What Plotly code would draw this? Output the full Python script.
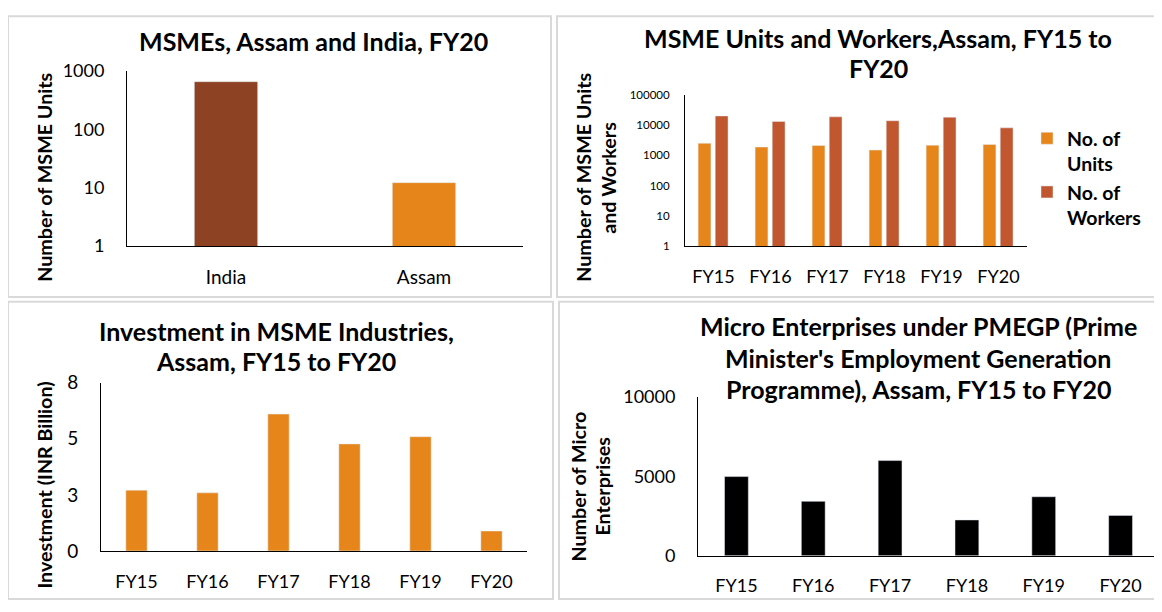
import plotly.graph_objects as go

# page body has an 8px margin: the figure is sized to fill the rest of the window
OFF = 8
W, H = 1162 - OFF, 612 - OFF

# ---------------- data ----------------
p1_categories = ["India", "Assam"]
p1_values = [656, 12.2]

years = ["FY15", "FY16", "FY17", "FY18", "FY19", "FY20"]
units = [2530, 1900, 2140, 1510, 2190, 2300]
workers = [20300, 13400, 19000, 14100, 18500, 8200]

investment = [2.71, 2.59, 6.10, 4.77, 5.09, 0.89]

pmegp = [4990, 3430, 6000, 2260, 3720, 2545]

p1_ticks = [1, 10, 100, 1000]
p2_ticks = [1, 10, 100, 1000, 10000, 100000]
p3_tickvals = [0, 2.5, 5, 7.5]
p3_ticktext = ["0", "3", "5", "8"]
p4_ticks = [0, 5000, 10000]

# ---------------- style ----------------
FONT = "Lato"
BROWN = "#8C4223"
ORANGE = "#E6851A"
RUST = "#C0572F"


def px(x):
    return (x - OFF) / W


def py(y):
    return 1 - (y - OFF) / H


fig = go.Figure()

fig.add_trace(go.Bar(x=p1_categories, y=p1_values, marker_color=[BROWN, ORANGE],
                     width=0.32, xaxis="x", yaxis="y", showlegend=False))

fig.add_trace(go.Bar(x=years, y=units, name="No. of<br>Units", marker_color=ORANGE,
                     width=0.225, offset=-0.27, xaxis="x2", yaxis="y2"))
fig.add_trace(go.Bar(x=years, y=workers, name="No. of<br>Workers", marker_color=RUST,
                     width=0.225, offset=0.03, xaxis="x2", yaxis="y2"))

fig.add_trace(go.Bar(x=years, y=investment, marker_color=ORANGE, width=0.30,
                     xaxis="x3", yaxis="y3", showlegend=False))

fig.add_trace(go.Bar(x=years, y=pmegp, marker_color="#000000", width=0.31,
                     xaxis="x4", yaxis="y4", showlegend=False))

axis_common = dict(showgrid=False, zeroline=False, showline=True, linecolor="#000000",
                   linewidth=1, ticks="", fixedrange=True)

def xax(x0, x1, anchor, size, standoff):
    return dict(domain=[px(x0), px(x1)], anchor=anchor, type="category",
                tickfont=dict(family=FONT, size=size, color="#000000"),
                ticklabelstandoff=standoff, **axis_common)

def yax(y0, y1, anchor, size, standoff, **kw):
    return dict(domain=[py(y1), py(y0)], anchor=anchor,
                tickfont=dict(family=FONT, size=size, color="#000000"),
                ticklabelstandoff=standoff, **axis_common, **kw)

fig.update_layout(
    width=W, height=H,
    margin=dict(l=0, r=0, t=0, b=0),
    paper_bgcolor="#FFFFFF", plot_bgcolor="#FFFFFF",
    barmode="group",
    font=dict(family=FONT, color="#000000"),
    xaxis=dict(xax(127, 523, "y", 19, 14), range=[-0.5, 1.5]),
    yaxis=yax(61, 243, "x", 18, 18, type="log", range=[0, 3],
              tickvals=p1_ticks, ticktext=[str(v) for v in p1_ticks]),
    xaxis2=dict(xax(685, 1027, "y2", 18, 14), range=[-0.5, 5.5]),
    yaxis2=yax(86, 243, "x2", 11.5, 12, type="log", range=[0, 5],
               tickvals=p2_ticks, ticktext=[str(v) for v in p2_ticks]),
    xaxis3=dict(xax(101, 527, "y3", 18, 14), range=[-0.5, 5.5]),
    yaxis3=yax(385, 560, "x3", 19, 18, range=[0, 7.5],
               tickvals=p3_tickvals, ticktext=p3_ticktext),
    xaxis4=dict(xax(698, 1159, "y4", 18, 14), range=[-0.5, 5.5]),
    yaxis4=yax(400, 565, "x4", 18, 18, range=[0, 10000],
               tickvals=p4_ticks, ticktext=[str(v) for v in p4_ticks]),
    legend=dict(x=px(1027), y=py(111), xanchor="left", yanchor="top",
                valign="top",
                font=dict(family=FONT, size=19.5, color="#000000", weight="bold"),
                bgcolor="rgba(0,0,0,0)", itemwidth=30),
    showlegend=True,
)

# panel borders
shapes = []
for (x0, y0, x1, y1) in [(8, 4, 551, 296), (557, 4, 1159, 296),
                         (8, 301, 553, 610), (559, 301, 1159, 610)]:
    shapes.append(dict(type="rect", xref="paper", yref="paper",
                       x0=px(x0), x1=px(x1), y0=py(y1), y1=py(y0),
                       line=dict(color="#D9D9D9", width=2), fillcolor="rgba(0,0,0,0)"))
fig.update_layout(shapes=shapes)

annotations = []

def text(x, y, s, size, bold=True, angle=0):
    annotations.append(dict(xref="paper", yref="paper", x=px(x), y=py(y), text=s,
                            showarrow=False, xanchor="center", yanchor="middle",
                            textangle=angle,
                            font=dict(family=FONT, size=size, color="#000000",
                                      weight="bold" if bold else "normal")))

TS = 25
# titles
text(313, 30, "MSMEs, Assam and India, FY20", TS)
text(878, 27, "MSME Units and Workers,Assam, FY15 to", TS)
text(878, 58, "FY20", TS)
text(276, 331, "Investment in MSME Industries,", TS)
text(276, 363, "Assam, FY15 to FY20", TS)
text(918, 326, "Micro Enterprises under PMEGP (Prime", TS)
text(918, 359, "Minister's Employment Generation", TS)
text(918, 392, "Programme), Assam, FY15 to FY20", TS)

# y-axis titles
YS = 19.7
text(45, 172, "Number of MSME Units", YS, angle=-90)
text(584, 172, "Number of MSME Units", YS, angle=-90)
text(609, 172, "and Workers", YS, angle=-90)
text(45, 492, "Investment (INR Billion)", YS, angle=-90)
text(579, 493, "Number of Micro", YS, angle=-90)
text(603, 493, "Enterprises", YS, angle=-90)

fig.update_layout(annotations=annotations)

fig.write_html("out.html", config={"displayModeBar": False})
